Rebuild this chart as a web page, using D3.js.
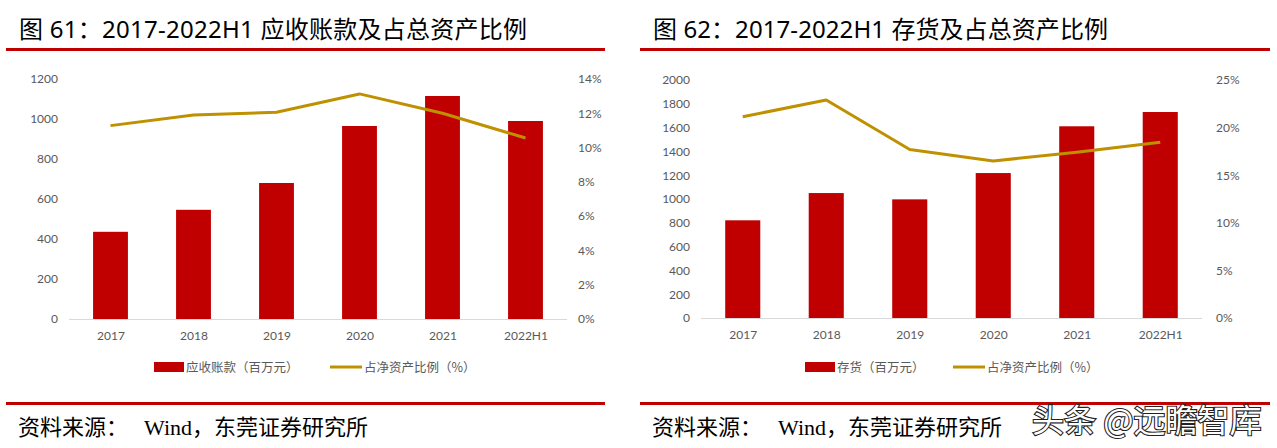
<!DOCTYPE html>
<html><head><meta charset="utf-8">
<script src="https://cdn.jsdelivr.net/npm/d3@7"></script>
<style>html,body{margin:0;padding:0;background:#fff;}svg{display:block;}</style>
</head><body>
<svg id="c" width="1277" height="448"></svg>
<script>
const categories = ["2017","2018","2019","2020","2021","2022H1"];
const receivables = [436, 546, 680, 965, 1115, 990];
const receivablesRatio = [11.28, 11.9, 12.06, 13.13, 12.0, 10.56];
const inventory = [821, 1050, 997, 1218, 1611, 1731];
const inventoryRatio = [21.14, 22.9, 17.7, 16.5, 17.4, 18.45];
const leftTicks1 = [0,200,400,600,800,1000,1200];
const rightTicks1 = [0,2,4,6,8,10,12,14];
const leftTicks2 = [0,200,400,600,800,1000,1200,1400,1600,1800,2000];
const rightTicks2 = [0,5,10,15,20,25];
const titles = ["图 61：2017-2022H1 应收账款及占总资产比例","图 62：2017-2022H1 存货及占总资产比例"];
const barNames = ["应收账款（百万元）","存货（百万元）"];
const lineName = "占净资产比例（%）";
const sourceLabel = "资料来源：";
const sourceBody = "Wind，东莞证券研究所";
const watermark = "头条 @远瞻智库";

const svg = d3.select("#c");
const RED = "#C00000", GOLD = "#BF9000", GRAY = "#595959";
const cjk = "'Noto Sans CJK SC', sans-serif";
const titleFont = "'Noto Sans', 'Noto Sans CJK SC', sans-serif";
const tickFont = "Lato, 'Noto Sans', sans-serif";

function panel(cfg, k){
  const g = svg.append("g");
  g.append("text").attr("x", cfg.px+19).attr("y", 38)
    .attr("font-family", titleFont).attr("font-size", 24).attr("fill","#000")
    .attr("textLength", cfg.titleLen).attr("lengthAdjust", "spacing")
    .text(titles[k]);

  g.append("rect").attr("x", cfg.ruleX0).attr("y", 48).attr("width", cfg.ruleX1-cfg.ruleX0).attr("height", 3).attr("fill", RED);
  g.append("rect").attr("x", cfg.ruleX0).attr("y", 402).attr("width", cfg.ruleX1-cfg.ruleX0).attr("height", 3).attr("fill", RED);
  const s = g.append("text").attr("x", cfg.px+18).attr("y", 435)
    .attr("font-family", "'Liberation Serif', 'Noto Sans CJK SC', serif").attr("font-size", 22).attr("fill","#000");
  s.append("tspan").text(sourceLabel);
  s.append("tspan").attr("dx", 16).text(sourceBody);

  const x = d3.scaleBand().domain(categories).range([cfg.x0, cfg.x1]).paddingInner(0.58).paddingOuter(0.29);
  const xc = d3.scalePoint().domain(categories).range([cfg.x0, cfg.x1]).padding(0.5);
  const yL = d3.scaleLinear().domain([0, cfg.lmax]).range([cfg.yBase, cfg.yTop]);
  const yR = d3.scaleLinear().domain([0, cfg.rmax]).range([cfg.yBase, cfg.yTop]);

  const la = g.append("g").attr("transform", `translate(${cfg.lx},0)`)
    .call(d3.axisLeft(yL).tickValues(cfg.lt).tickSize(0).tickPadding(0).tickFormat(d3.format("d")));
  la.select(".domain").remove();
  la.selectAll("text").attr("font-family", tickFont).attr("font-size", 12).attr("fill", GRAY);
  const ra = g.append("g").attr("transform", `translate(${cfg.rx},0)`)
    .call(d3.axisRight(yR).tickValues(cfg.rt).tickSize(0).tickPadding(0).tickFormat(d => d + "%"));
  ra.select(".domain").remove();
  ra.selectAll("text").attr("font-family", tickFont).attr("font-size", 12).attr("fill", GRAY);

  g.selectAll("rect.bar").data(cfg.bars).enter().append("rect").attr("class","bar")
    .attr("x", (d,i) => x(categories[i])).attr("width", x.bandwidth())
    .attr("y", d => yL(d)).attr("height", d => yL(0) - yL(d)).attr("fill", RED);

  g.append("line").attr("x1", cfg.x0).attr("x2", cfg.x1).attr("y1", yL(0)+0.5).attr("y2", yL(0)+0.5)
    .attr("stroke", "#D9D9D9").attr("stroke-width", 1);

  const xa = g.append("g").attr("transform", `translate(0,${cfg.yBase+12})`)
    .call(d3.axisBottom(xc).tickSize(0).tickPadding(0));
  xa.select(".domain").remove();
  xa.selectAll("text").attr("font-family", tickFont).attr("font-size", 12).attr("fill", GRAY);

  const line = d3.line().x((d,i) => xc(categories[i])).y(d => yR(d));
  g.append("path").datum(cfg.ratio).attr("d", line).attr("fill","none")
    .attr("stroke", GOLD).attr("stroke-width", 3).attr("stroke-linejoin","round");

  const lg = g.append("g");
  lg.append("rect").attr("x", cfg.leg1).attr("y", 362).attr("width", 30).attr("height", 10).attr("fill", RED);
  lg.append("text").attr("x", cfg.leg1+32).attr("y", 371.5).attr("font-family", cjk).attr("font-size", 12.5).attr("fill", GRAY).text(barNames[k]);
  lg.append("line").attr("x1", cfg.leg2).attr("x2", cfg.leg2+32).attr("y1", 367).attr("y2", 367).attr("stroke", GOLD).attr("stroke-width", 3);
  lg.append("text").attr("x", cfg.leg2+34).attr("y", 371.5).attr("font-family", cjk).attr("font-size", 12.5).attr("fill", GRAY).text(lineName);
}

panel({px:0, titleLen:508, ruleX0:6, ruleX1:605, x0:69, x1:567, yTop:79, yBase:319,
  lmax:1200, rmax:14, lt:leftTicks1, rt:rightTicks1, lx:58, rx:578,
  bars:receivables, ratio:receivablesRatio, leg1:154, leg2:330}, 0);
panel({px:634, titleLen:455, ruleX0:640, ruleX1:1270, x0:701, x1:1202, yTop:80, yBase:318,
  lmax:2000, rmax:25, lt:leftTicks2, rt:rightTicks2, lx:690, rx:1216,
  bars:inventory, ratio:inventoryRatio, leg1:805, leg2:953}, 1);

svg.append("text").attr("x", 1032).attr("y", 432)
  .attr("font-family", cjk).attr("font-size", 32).attr("fill", "#fff")
  .attr("stroke", "#222").attr("stroke-width", 2.2).attr("paint-order", "stroke")
  .style("white-space","pre")
  .text(watermark);
</script>
</body></html>
